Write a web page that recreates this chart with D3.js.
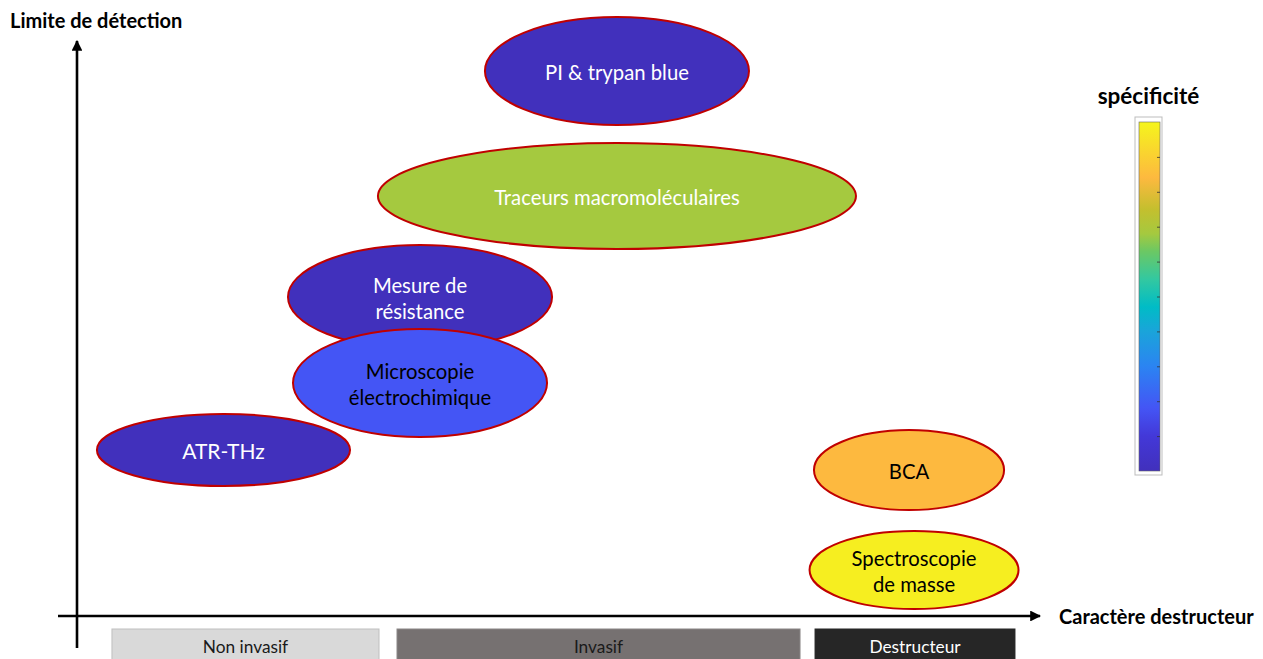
<!DOCTYPE html>
<html>
<head>
<meta charset="utf-8">
<script src="https://cdn.jsdelivr.net/npm/d3@7"></script>
<style>
  html, body { margin: 0; padding: 0; background: #ffffff; }
  svg { display: block; font-family: Lato, "Open Sans", sans-serif; }
</style>
</head>
<body>
<svg id="chart" width="1263" height="659"></svg>
<script>
// ---- data ----
const methods = ["PI & trypan blue", "Traceurs macromoléculaires", "Mesure de\nrésistance",
                 "Microscopie\nélectrochimique", "ATR-THz", "BCA", "Spectroscopie\nde masse"];
const destructivite = [56.07, 56.07, 35.62, 35.62, 15.21, 86.40, 86.92];   // x centre
const destructiviteSpan = [13.71, 24.82, 13.71, 13.19, 13.14, 9.87, 10.85]; // x half-extent
const limiteDetection = [94.78, 73.04, 55.48, 40.52, 28.87, 25.39, 8.00];  // y centre
const limiteSpan = [9.39, 9.22, 9.04, 9.39, 6.26, 6.96, 6.78];              // y half-extent
const specificite = [0.0, 0.68, 0.0, 0.18, 0.0, 0.84, 0.98];

const categories = ["Non invasif", "Invasif", "Destructeur"];
const categoryStart = [3.63, 33.23, 76.64];
const categoryEnd = [31.36, 75.08, 97.40];

const colorStops = [0, 0.1, 0.18, 0.3, 0.4, 0.47, 0.55, 0.63, 0.68, 0.75, 0.84, 1.0];
const colorValues = ["#4130bc", "#4338d8", "#4455f5", "#2b84f2", "#1aa4da", "#00bcc6",
                     "#33c8a0", "#6cc863", "#a5c93f", "#c4bf2e", "#fdb93f", "#f5f51c"];
const colorbarTicks = [0.1, 0.2, 0.3, 0.4, 0.5, 0.6, 0.7, 0.8, 0.9];

const xTitle = "Caractère destructeur";
const yTitle = "Limite de détection";
const cTitle = "spécificité";

// ---- drawing ----
const svg = d3.select("#chart");
const x = d3.scaleLinear().domain([0, 100]).range([77, 1040]);
const y = d3.scaleLinear().domain([0, 100]).range([616, 41]);
const color = d3.scaleLinear().domain(colorStops).range(colorValues).interpolate(d3.interpolateRgb);

const defs = svg.append("defs");
["arrowX", "arrowY"].forEach(id => {
  defs.append("marker").attr("id", id)
    .attr("viewBox", "0 0 10 10").attr("refX", 9).attr("refY", 5)
    .attr("markerWidth", 4.2).attr("markerHeight", 4.2).attr("orient", "auto")
    .append("path").attr("d", "M0,0 L10,5 L0,10 Z").attr("fill", "#000");
});

// axes
svg.append("line").attr("x1", x(0)).attr("y1", 648).attr("x2", x(0)).attr("y2", y(100))
  .attr("stroke", "#000").attr("stroke-width", 2.6).attr("marker-end", "url(#arrowY)");
svg.append("line").attr("x1", 58).attr("y1", y(0)).attr("x2", x(100)).attr("y2", y(0))
  .attr("stroke", "#000").attr("stroke-width", 2.6).attr("marker-end", "url(#arrowX)");

svg.append("text").attr("x", 10).attr("y", 28).text(yTitle)
  .attr("font-weight", "bold").attr("font-size", 20).attr("fill", "#000");
svg.append("text").attr("x", 1059).attr("y", 624).text(xTitle)
  .attr("font-weight", "bold").attr("font-size", 20).attr("fill", "#000");

// category bands
const catFill = ["#d9d9d9", "#767171", "#262626"];
const catStroke = ["#bfbfbf", "#8a8686", "#262626"];
const catText = ["#1a1a1a", "#1a1a1a", "#ffffff"];
categories.forEach((c, i) => {
  svg.append("rect").attr("x", x(categoryStart[i])).attr("y", 629)
    .attr("width", x(categoryEnd[i]) - x(categoryStart[i])).attr("height", 40)
    .attr("fill", catFill[i]).attr("stroke", catStroke[i]).attr("stroke-width", 1);
  svg.append("text").attr("x", (x(categoryStart[i]) + x(categoryEnd[i])) / 2).attr("y", 653)
    .attr("text-anchor", "middle").attr("font-size", 17.3).attr("fill", catText[i]).text(c);
});

// ellipses
methods.forEach((m, i) => {
  const g = svg.append("g");
  const cx = x(destructivite[i]), cy = y(limiteDetection[i]);
  g.append("ellipse").attr("cx", cx).attr("cy", cy)
    .attr("rx", x(destructiviteSpan[i]) - x(0)).attr("ry", y(0) - y(limiteSpan[i]))
    .attr("fill", color(specificite[i])).attr("stroke", "#c00000").attr("stroke-width", 2);
  const lines = m.split("\n");
  const fs = m === "ATR-THz" ? 21 : 20.3;
  const lh = 26;
  const t = g.append("text").attr("text-anchor", "middle").attr("font-size", fs)
    .attr("fill", (specificite[i] === 0 || specificite[i] === 0.68) ? "#ffffff" : "#000000");
  lines.forEach((l, k) => {
    t.append("tspan").attr("x", cx)
      .attr("y", cy + (k - (lines.length - 1) / 2) * lh + fs * 0.35 + 1.5).text(l);
  });
});

// colorbar
const cb = { x: 1139, w: 21, top: 122, bottom: 471 };
const grad = defs.append("linearGradient").attr("id", "cbar")
  .attr("x1", 0).attr("y1", 1).attr("x2", 0).attr("y2", 0);
colorStops.forEach((s, i) => grad.append("stop").attr("offset", s).attr("stop-color", colorValues[i]));
svg.append("rect").attr("x", cb.x - 4).attr("y", cb.top - 5).attr("width", cb.w + 6)
  .attr("height", cb.bottom - cb.top + 9).attr("fill", "#fff").attr("stroke", "#bdbdbd").attr("stroke-width", 1);
svg.append("rect").attr("x", cb.x).attr("y", cb.top).attr("width", cb.w)
  .attr("height", cb.bottom - cb.top).attr("fill", "url(#cbar)").attr("stroke", "#666").attr("stroke-width", 0.6);
const cScale = d3.scaleLinear().domain([0, 1]).range([cb.bottom, cb.top]);
svg.append("g").attr("transform", `translate(${cb.x + cb.w},0)`)
  .call(d3.axisLeft(cScale).tickValues(colorbarTicks).tickSize(3).tickFormat(""))
  .call(g => g.select(".domain").remove())
  .call(g => g.selectAll("line").attr("stroke", "#333").attr("stroke-width", 0.8));
svg.append("text").attr("x", cb.x + cb.w / 2 - 1).attr("y", 104).attr("text-anchor", "middle")
  .attr("font-weight", "bold").attr("font-size", 22.5).attr("fill", "#000").text(cTitle);
</script>
</body>
</html>
